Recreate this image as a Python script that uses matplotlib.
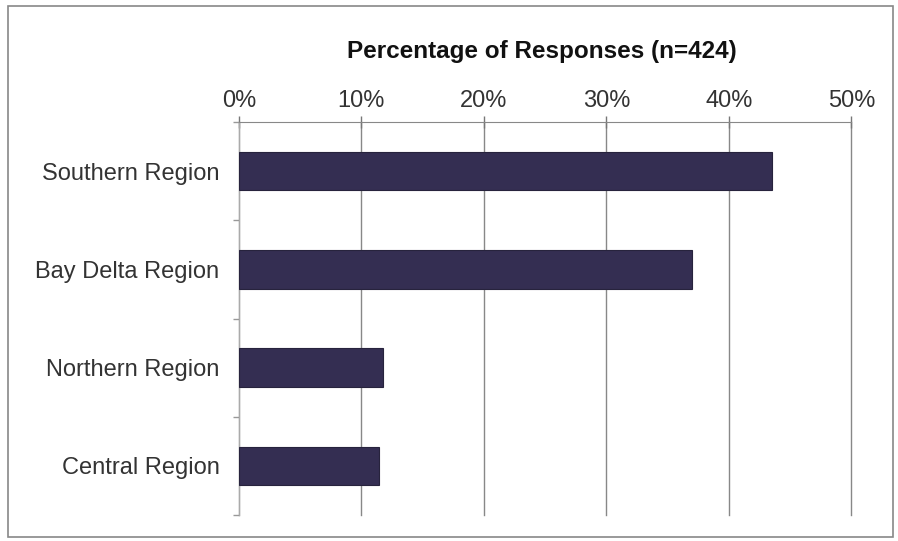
import matplotlib

matplotlib.use("Agg")
import matplotlib.pyplot as plt
from matplotlib.patches import Rectangle
import numpy as np

# Data
regions = ["Southern Region", "Bay Delta Region", "Northern Region", "Central Region"]
percent = [43.5, 37.0, 11.8, 11.4]
xticks = [0, 10, 20, 30, 40, 50]

plt.rcParams["font.family"] = ["Liberation Sans", "DejaVu Sans"]

fig = plt.figure(figsize=(8.98, 5.41), dpi=100)
ax = fig.add_axes([0.266, 0.048, 0.682, 0.7265])

y = np.arange(len(regions))
ax.barh(y, percent, height=0.39, color="#342e52", edgecolor="#27233d", linewidth=0.8, zorder=3)

ax.set_xlim(0, 50)
ax.set_ylim(len(regions) - 0.5, -0.5)

ax.xaxis.tick_top()
ax.set_xticks(xticks)
ax.set_xticklabels([f"{v}%" for v in xticks], fontsize=17, color="#333333")
ax.tick_params(axis="x", direction="inout", length=8, width=1, color="#777777", pad=3)

ax.set_yticks(y)
ax.set_yticklabels(regions, fontsize=17, color="#333333")
ax.tick_params(axis="y", which="major", length=0, pad=14)
ax.set_yticks(np.arange(len(regions) + 1) - 0.5, minor=True)
ax.tick_params(axis="y", which="minor", length=4, width=1, color="#999999")

ax.grid(axis="x", color="#888888", linewidth=1, zorder=0)
for gl in ax.get_xgridlines():
    gl.set_clip_on(False)
for side in ["right", "bottom"]:
    ax.spines[side].set_visible(False)
ax.spines["top"].set_color("#888888")
ax.spines["left"].set_color("#aaaaaa")

fig.text(0.603, 0.904, "Percentage of Responses (n=424)", ha="center", va="center",
         fontsize=17.5, fontweight="bold", color="#111111")

# figure border
fig.patches.append(Rectangle((0.009, 0.008), 0.985, 0.981, transform=fig.transFigure,
                             fill=False, edgecolor="#888888", linewidth=1.2))

fig.savefig("out.png", dpi=100)
